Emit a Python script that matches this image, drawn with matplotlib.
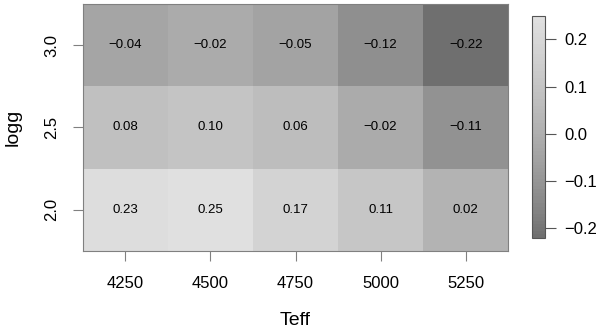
import numpy as np
import matplotlib
matplotlib.use('Agg')
import matplotlib.pyplot as plt
from matplotlib.colors import ListedColormap

plt.rcParams['font.family'] = ['Liberation Sans', 'DejaVu Sans']

# data
teff = [4250, 4500, 4750, 5000, 5250]
logg = [2.0, 2.5, 3.0]
vals = np.array([
    [0.23, 0.25, 0.17, 0.11, 0.02],     # logg 2.0
    [0.08, 0.10, 0.06, -0.02, -0.11],   # logg 2.5
    [-0.04, -0.02, -0.05, -0.12, -0.22] # logg 3.0
])

# gamma-corrected grey ramp (like R's gray.colors)
gam = 2.2
lo, hi = 0.435, 0.878
lev = np.linspace(lo**gam, hi**gam, 64) ** (1 / gam)
cmap = ListedColormap(np.column_stack([lev, lev, lev]))
vmin, vmax = vals.min(), vals.max()

fig = plt.figure(figsize=(6.0, 3.29), dpi=100)
ax = fig.add_axes([0.138, 0.237, 0.709, 0.751])

xe = np.concatenate([[teff[0] - 125], np.array(teff) + 125])
ye = np.concatenate([[logg[0] - 0.25], np.array(logg) + 0.25])
mesh = ax.pcolormesh(xe, ye, vals, cmap=cmap, vmin=vmin, vmax=vmax)

for i, g in enumerate(logg):
    for j, t in enumerate(teff):
        lbl = ('%.2f' % vals[i, j]).replace('-', '\u2212')
        ax.text(t, g, lbl, ha='center', va='center', fontsize=9.5, color='black')

edge = '#808080'
for s in ax.spines.values():
    s.set_color(edge)
ax.set_xticks(teff)
ax.set_yticks(logg)
ax.set_yticklabels(['%.1f' % g for g in logg], rotation=90, va='center')
ax.tick_params(direction='out', length=7, color=edge, labelsize=12)
ax.tick_params(axis='x', pad=11)
ax.tick_params(axis='y', pad=10)
ax.set_xlabel('Teff', fontsize=14, labelpad=15)
ax.set_ylabel('logg', fontsize=14, labelpad=16)

cax = fig.add_axes([0.887, 0.277, 0.0217, 0.675])
cb = fig.colorbar(mesh, cax=cax)
cb.set_ticks([-0.2, -0.1, 0.0, 0.1, 0.2])
cb.outline.set_edgecolor('#555555')
cax.tick_params(direction='out', length=8, color='#555555', labelsize=12, pad=6)
cb.ax.set_yticklabels(['\u22120.2', '\u22120.1', '0.0', '0.1', '0.2'])

fig.savefig('out.png', dpi=100)
